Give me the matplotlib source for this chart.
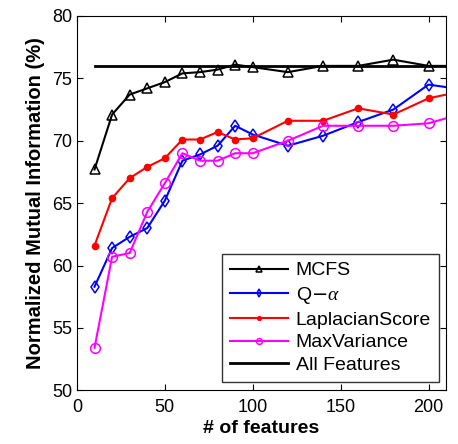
import matplotlib.pyplot as plt

plt.rcParams['font.family'] = ['Liberation Sans', 'DejaVu Sans']
plt.rcParams['mathtext.fontset'] = 'custom'
plt.rcParams['mathtext.it'] = 'Liberation Serif:italic'

n_features = [10, 20, 30, 40, 50, 60, 70, 80, 90, 100, 120, 140, 160, 180, 200, 210]
mcfs = [67.7, 72.1, 73.7, 74.2, 74.7, 75.4, 75.5, 75.7, 76.1, 75.9, 75.5, 76.0, 76.0, 76.5, 76.0, 76.0]
q_alpha = [58.3, 61.4, 62.3, 63.0, 65.2, 68.4, 68.9, 69.6, 71.2, 70.5, 69.6, 70.4, 71.5, 72.5, 74.5, 74.3]
laplacian = [61.6, 65.4, 67.0, 67.9, 68.6, 70.1, 70.1, 70.7, 70.1, 70.2, 71.6, 71.6, 72.6, 72.1, 73.4, 73.7]
max_var = [53.4, 60.7, 61.0, 64.3, 66.6, 69.0, 68.4, 68.4, 69.0, 69.0, 70.0, 71.2, 71.2, 71.2, 71.4, 71.8]
all_features = 76.0

fig = plt.figure(figsize=(4.58, 4.44), dpi=100)
ax = fig.add_axes([0.168, 0.121, 0.806, 0.843])

# last point sits at the right edge, no marker there
mk = list(range(len(n_features) - 1))
ax.plot(n_features, mcfs, color='black', lw=1.5, marker='^', ms=7, mfc='none', mew=1.1, markevery=mk, label='MCFS')
ax.plot(n_features, q_alpha, color='blue', lw=1.5, marker='d', ms=6.5, mfc='none', mew=1.1, markevery=mk, label=r'Q$-\alpha$')
ax.plot(n_features, laplacian, color='red', lw=1.5, marker='o', ms=4.5, mfc='red', markevery=mk, label='LaplacianScore')
ax.plot(n_features, max_var, color='magenta', lw=1.5, marker='o', ms=7, mfc='none', mew=1.1, markevery=mk, label='MaxVariance')
ax.plot([10, 210], [all_features, all_features], color='black', lw=2, label='All Features')

ax.set_xlim(0, 210)
ax.set_ylim(50, 80)
ax.set_xticks([0, 50, 100, 150, 200])
ax.set_yticks([50, 55, 60, 65, 70, 75, 80])
ax.tick_params(direction='in', top=True, right=True, labelsize=13, length=4)
ax.tick_params(axis='x', pad=6)
ax.set_xlabel('# of features', fontsize=14, fontweight='bold', labelpad=3)
ax.set_ylabel('Normalized Mutual Information (%)', fontsize=14.5, fontweight='bold', labelpad=5)

ax.legend(loc='lower right', fontsize=14, frameon=True, fancybox=False, edgecolor='black',
          handlelength=3.0, handletextpad=0.4, borderpad=0.4, labelspacing=0.27,
          markerscale=0.6, borderaxespad=0.0, bbox_to_anchor=(0.98, 0.022))

plt.savefig('out.png', dpi=100)
